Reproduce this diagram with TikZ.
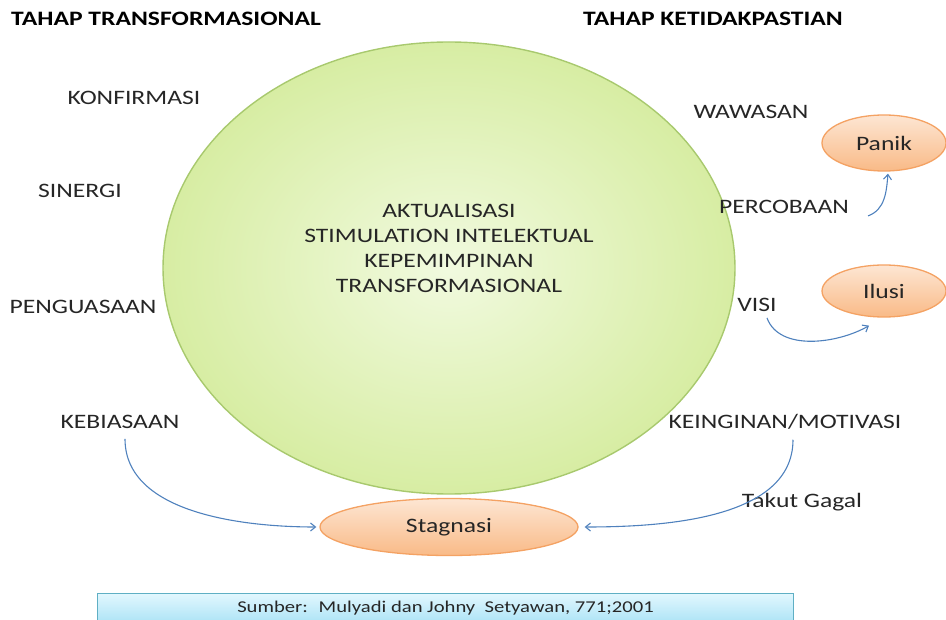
\documentclass[tikz,border=0pt]{standalone}
\usepackage{fontspec}
\setmainfont{Carlito}[FakeStretch=1.25]
\usetikzlibrary{shapes.geometric,arrows.meta}
\definecolor{txt}{HTML}{262626}
\definecolor{arrblue}{HTML}{4F81BD}
\definecolor{gborder}{HTML}{A8C96E}
\definecolor{ginner}{HTML}{F1FADF}
\definecolor{gouter}{HTML}{D7EDA3}
\definecolor{oborder}{HTML}{F4A263}
\definecolor{otop}{HTML}{FDE6D3}
\definecolor{obottom}{HTML}{F9BA87}
\definecolor{ctop}{HTML}{E2F7FE}
\definecolor{cbottom}{HTML}{ABE3F6}
\definecolor{cborder}{HTML}{5FAFC4}
\tikzset{
  lbl/.style={font=\fontsize{20.5}{24}\selectfont, text=txt, inner sep=0pt},
  ttl/.style={font=\fontsize{20.5}{24}\selectfont\bfseries, text=black, inner sep=0pt},
  oval/.style={ellipse, draw=oborder, line width=1.3pt, top color=otop, bottom color=obottom,
     inner sep=0pt, font=\fontsize{20.5}{24}\selectfont, text=txt},
  arr/.style={draw=arrblue, line width=1.1pt, -{Straight Barb[length=5pt,width=8pt]}}
}
\begin{document}
\begin{tikzpicture}[x=1pt,y=-1pt]
\useasboundingbox (0,0) rectangle (946,620);
% big ellipse
\node[ellipse, draw=gborder, line width=1.4pt, inner color=ginner, outer color=gouter,
  minimum width=572pt, minimum height=452pt, inner sep=0pt] (big) at (449,268) {};
\node[lbl, align=center, font=\fontsize{20.5}{25}\selectfont] (center) at (449,248)
  {AKTUALISASI\\STIMULATION INTELEKTUAL\\KEPEMIMPINAN\\TRANSFORMASIONAL};
% titles
\node[ttl] (t1) at (166,19) {TAHAP TRANSFORMASIONAL};
\node[ttl] (t2) at (713,19) {TAHAP KETIDAKPASTIAN};
% left labels
\node[lbl] (konf) at (134,98) {KONFIRMASI};
\node[lbl] (siner) at (80,191) {SINERGI};
\node[lbl] (peng) at (83,307) {PENGUASAAN};
\node[lbl] (kebi) at (120,422) {KEBIASAAN};
% right labels
\node[lbl] (wawa) at (751,112) {WAWASAN};
\node[lbl] (perc) at (784,207) {PERCOBAAN};
\node[lbl] (visi) at (757,305) {VISI};
\node[lbl] (kein) at (785,422) {KEINGINAN/MOTIVASI};
\node[lbl] (takut) at (802,502) {Takut Gagal};
% ovals
\node[oval, minimum width=124pt, minimum height=56pt] (panik) at (884,143) {Panik};
\node[oval, minimum width=124pt, minimum height=52pt] (ilusi) at (884,291) {Ilusi};
\node[oval, minimum width=258pt, minimum height=57pt] (stag) at (449,527) {Stagnasi};
% source box
\node[draw=cborder, line width=1pt, top color=ctop, bottom color=cbottom,
  minimum width=696pt, minimum height=30pt, inner sep=0pt, anchor=north west,
  font=\fontsize{16.5}{19}\selectfont, text=txt] (src) at (97,593)
  {Sumber:~ Mulyadi dan Johny~ Setyawan, 771;2001};
% arrows
\draw[arr] ([xshift=5pt,yshift=-10pt]kebi.south) to[out=-90,in=180,looseness=0.9] ([xshift=-3pt]stag.west);
\draw[arr] ([xshift=8pt,yshift=-10pt]kein.south) to[out=-90,in=0,looseness=0.9] ([xshift=6pt]stag.east);
\draw[arr] ([xshift=84pt,yshift=-2pt]perc.south) to[out=20,in=-95] ([xshift=4pt,yshift=-2pt]panik.south);
\draw[arr] ([xshift=10pt,yshift=-6pt]visi.south) to[out=-70,in=210,looseness=0.9] ([xshift=-15pt,yshift=-8pt]ilusi.south);
\end{tikzpicture}
\end{document}
